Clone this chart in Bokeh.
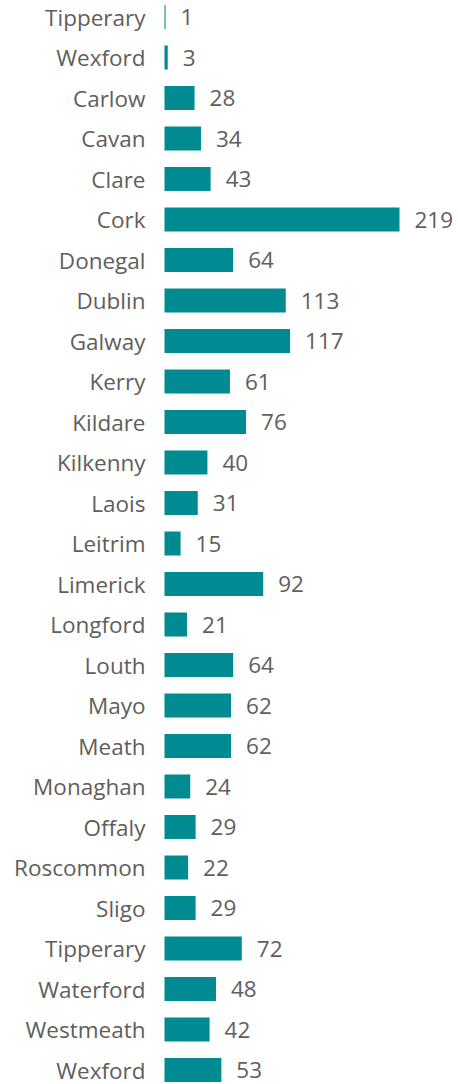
from bokeh.plotting import figure
from bokeh.models import ColumnDataSource, Range1d
from bokeh.core.properties import value
from bokeh.embed import file_html
from bokeh.resources import INLINE

counties = ["Tipperary", "Wexford", "Carlow", "Cavan", "Clare", "Cork", "Donegal",
            "Dublin", "Galway", "Kerry", "Kildare", "Kilkenny", "Laois", "Leitrim",
            "Limerick", "Longford", "Louth", "Mayo", "Meath", "Monaghan", "Offaly",
            "Roscommon", "Sligo", "Tipperary", "Waterford", "Westmeath", "Wexford"]
counts = [1, 3, 28, 34, 43, 219, 64, 113, 117, 61, 76, 40, 31, 15, 92, 21, 64,
          62, 62, 24, 29, 22, 29, 72, 48, 42, 53]

idx = list(range(len(counties)))
src = ColumnDataSource(dict(y=idx, v=counts, name=counties,
                            lab=[str(c) for c in counts]))

W, H = 458, 1084
px_per_unit = 235 / 219
x0 = -164 / px_per_unit
x1 = (W - 164) / px_per_unit
row = 40.5
p = figure(width=W, height=H, output_backend="svg", toolbar_location=None,
           x_range=Range1d(x0, x1),
           y_range=Range1d(26 + (H - 1069.5) / row, -16.5 / row),
           min_border=0, outline_line_color=None)
p.axis.visible = False
p.grid.visible = False
p.background_fill_color = "white"
p.border_fill_color = "white"

p.hbar(y="y", left=0, right="v", height=0.59, source=src,
       fill_color="#008B92", line_color=None)

font = value("Open Sans")
p.text(x=0, y="y", text="name", source=src, x_offset=-19,
       text_align="right", text_baseline="middle", text_font=font,
       text_font_size="22.5px", text_color="#605E5C")
p.text(x="v", y="y", text="lab", source=src, x_offset=15,
       text_align="left", text_baseline="middle", text_font=font,
       text_font_size="22.5px", text_color="#605E5C")

open("out.html", "w").write(file_html(p, INLINE))
